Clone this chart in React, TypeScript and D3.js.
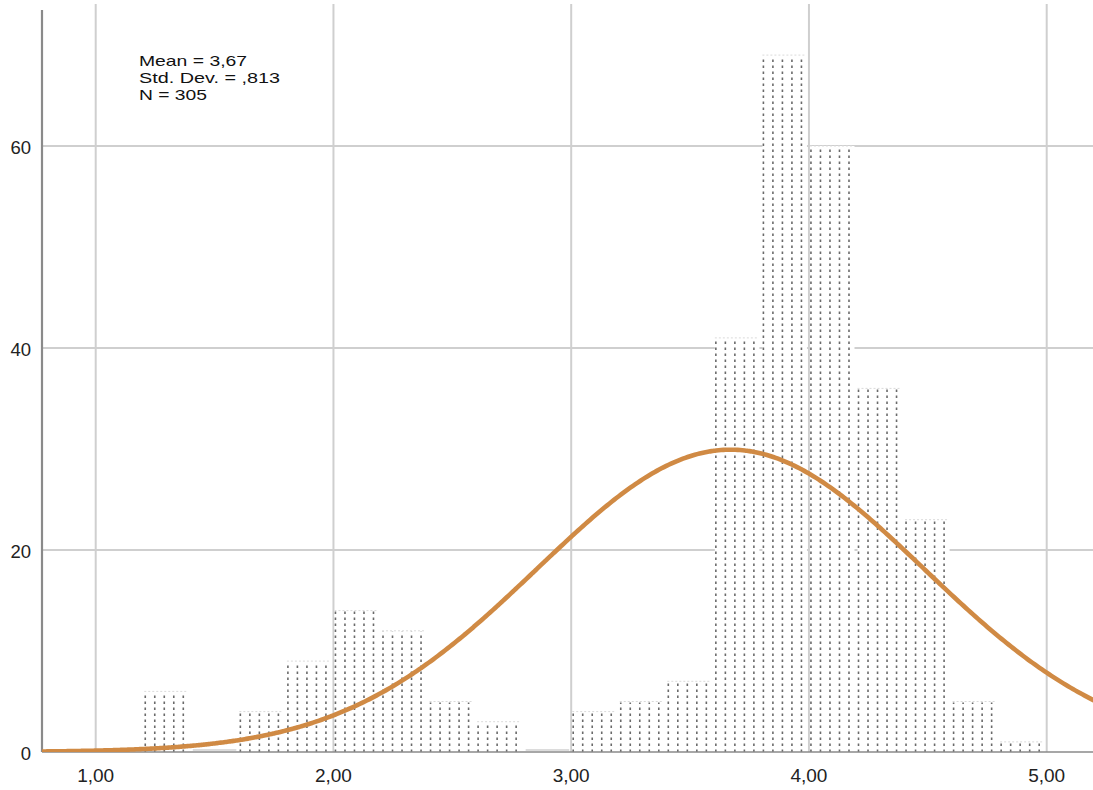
import React, { useEffect, useRef } from 'react';
import * as d3 from 'd3';

// histogram bins (start of each 0.2 wide bin) and counts
const binStarts = [1.2, 1.4, 1.6, 1.8, 2.0, 2.2, 2.4, 2.6, 2.8, 3.0, 3.2, 3.4, 3.6, 3.8, 4.0, 4.2, 4.4, 4.6, 4.8];
const counts = [6, 0, 4, 9, 14, 12, 5, 3, 0, 4, 5, 7, 41, 69, 60, 36, 23, 5, 1];
const binWidth = 0.2;

const xTicks = [1, 2, 3, 4, 5];
const yTicks = [0, 20, 40, 60];
const statLines = ['Mean = 3,67', 'Std. Dev. = ,813', 'N = 305'];
const statWidths = [108, 141, 68];
const mean = 3.67;
const stdDev = 0.813;
const total = 305;

const App = () => {
  const svgRef = useRef<SVGSVGElement>(null);

  useEffect(() => {
    const svg = d3.select(svgRef.current);
    svg.selectAll('*').remove();

    const width = 1093;
    const height = 790;
    const left = 42;
    const bottom = 752;
    const font = 'Liberation Sans, Arial, sans-serif';

    const x = d3.scaleLinear().domain([0.77413, 5.19474]).range([left, width]);
    const y = d3.scaleLinear().domain([0, 74.455]).range([bottom, 0]);

    svg.attr('width', width).attr('height', height);

    svg.append('rect').attr('width', width).attr('height', height).attr('fill', '#fff');

    svg.append('defs').append('clipPath').attr('id', 'plot')
      .append('rect').attr('x', left).attr('y', 0).attr('width', width - left).attr('height', bottom);

    // grid
    svg.selectAll('.vgrid').data(xTicks).enter().append('line')
      .attr('x1', d => x(d)).attr('x2', d => x(d))
      .attr('y1', 4).attr('y2', bottom)
      .style('stroke', '#cfcfcf').style('stroke-width', 2);

    svg.selectAll('.hgrid').data(yTicks.filter(d => d > 0)).enter().append('line')
      .attr('x1', left).attr('x2', width)
      .attr('y1', d => y(d)).attr('y2', d => y(d))
      .style('stroke', '#cfcfcf').style('stroke-width', 2);

    const bins = binStarts.map((b, i) => ({ x0: b, x1: b + binWidth, n: counts[i] }));

    const bars = svg.append('g');
    bins.forEach(b => {
      const bx0 = x(b.x0);
      const bx1 = x(b.x1);
      if (b.n === 0) {
        bars.append('line')
          .attr('x1', bx0 + 2).attr('x2', bx1 - 2)
          .attr('y1', bottom - 2).attr('y2', bottom - 2)
          .style('stroke', '#d0d0d0').style('stroke-width', 1.5);
        return;
      }
      const top = y(b.n);
      const step = (bx1 - bx0) / 5;
      bars.append('rect')
        .attr('x', bx0 + 1).attr('width', bx1 - bx0 - 3)
        .attr('y', top).attr('height', bottom - top)
        .style('fill', '#fff');
      bars.append('line')
        .attr('x1', bx0 + 1).attr('x2', bx1 - 4)
        .attr('y1', top).attr('y2', top)
        .style('stroke', '#dadada').style('stroke-width', 1)
        .style('stroke-dasharray', '2,2');
      for (let i = 0; i < 5; i++) {
        const lx = bx0 + 2 + i * step;
        bars.append('line')
          .attr('x1', lx).attr('x2', lx)
          .attr('y1', bottom).attr('y2', top + 1)
          .style('stroke', '#6a6a6a').style('stroke-width', 1.6)
          .style('stroke-dasharray', '2.6,3.4');
      }
    });

    // axes lines
    svg.append('line')
      .attr('x1', left).attr('x2', width).attr('y1', bottom).attr('y2', bottom)
      .style('stroke', '#8a8a8a').style('stroke-width', 1.5);
    svg.append('line')
      .attr('x1', left).attr('x2', left).attr('y1', 10).attr('y2', bottom)
      .style('stroke', '#8a8a8a').style('stroke-width', 2.2);

    // normal curve
    const scale = total * binWidth / (stdDev * Math.sqrt(2 * Math.PI));
    const pts = d3.range(0.77, 5.21, 0.01).map(v => [v, scale * Math.exp(-0.5 * ((v - mean) / stdDev) ** 2)]);
    const line = d3.line<number[]>().x(d => x(d[0])).y(d => y(d[1])).curve(d3.curveBasis);
    svg.append('path')
      .attr('clip-path', 'url(#plot)')
      .attr('d', line(pts))
      .style('fill', 'none')
      .style('stroke', '#d08a44')
      .style('stroke-width', 4.6);

    // tick labels
    svg.selectAll('.ylab').data(yTicks).enter().append('text')
      .attr('x', 31).attr('y', d => y(d) + 8)
      .attr('text-anchor', 'end')
      .style('font-family', font)
      .style('font-size', '18.5px')
      .style('fill', '#222')
      .text(d => d);

    svg.selectAll('.xlab').data(xTicks).enter().append('text')
      .attr('x', d => x(d)).attr('y', 782)
      .attr('text-anchor', 'middle')
      .style('font-family', font)
      .style('font-size', '19px')
      .style('fill', '#222')
      .text(d => d3.format('.2f')(d).replace('.', ','));

    svg.selectAll('.stat').data(statLines).enter().append('text')
      .attr('x', 139).attr('y', (d, i) => 66 + i * 17)
      .attr('textLength', (d, i) => statWidths[i])
      .attr('lengthAdjust', 'spacingAndGlyphs')
      .style('font-family', font)
      .style('font-size', '15px')
      .style('fill', '#111')
      .text(d => d);
  }, []);

  return (
    <svg ref={svgRef} style={{ position: 'absolute', left: 0, top: 0 }}></svg>
  );
};

export default App;
